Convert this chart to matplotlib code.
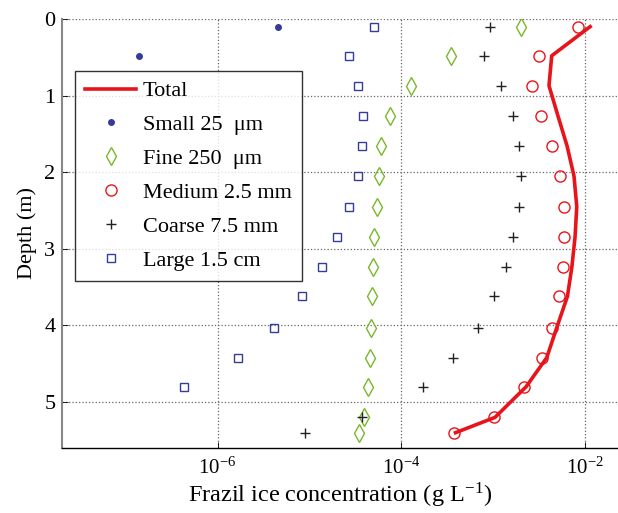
import numpy as np
import matplotlib
matplotlib.use('Agg')
import matplotlib.pyplot as plt

plt.rcParams['font.family'] = ['Liberation Serif', 'DejaVu Serif']
plt.rcParams['mathtext.fontset'] = 'stix'

# depth of each sample (m)
depth = [0.1, 0.48, 0.87, 1.27, 1.66, 2.05, 2.45, 2.85, 3.24, 3.62, 4.03, 4.42, 4.80, 5.20, 5.40]

# concentrations (g/L), nan = off the plot
small = [4.6e-6, 1.4e-7, np.nan, np.nan, np.nan, np.nan, np.nan, np.nan, np.nan, np.nan,
         np.nan, np.nan, np.nan, np.nan, np.nan]
fine = [2.0e-3, 3.5e-4, 1.29e-4, 7.5e-5, 6.0e-5, 5.7e-5, 5.5e-5, 5.1e-5, 4.9e-5, 4.8e-5,
        4.7e-5, 4.6e-5, 4.4e-5, 3.9e-5, 3.5e-5]
medium = [8.5e-3, 3.2e-3, 2.67e-3, 3.3e-3, 4.35e-3, 5.36e-3, 5.97e-3, 5.9e-3, 5.7e-3, 5.26e-3,
          4.4e-3, 3.43e-3, 2.19e-3, 1.02e-3, 3.8e-4]
coarse = [9.2e-4, 7.9e-4, 1.21e-3, 1.66e-3, 1.93e-3, 2.0e-3, 1.93e-3, 1.66e-3, 1.38e-3, 1.02e-3,
          6.8e-4, 3.7e-4, 1.71e-4, 3.75e-5, 8.9e-6]
large = [5.0e-5, 2.68e-5, 3.4e-5, 3.8e-5, 3.75e-5, 3.4e-5, 2.7e-5, 2.0e-5, 1.37e-5, 8.3e-6,
         4.1e-6, 1.66e-6, 4.3e-7, np.nan, np.nan]
total = [1.14e-2, 4.35e-3, 4.06e-3, 5.1e-3, 6.4e-3, 7.6e-3, 8.15e-3, 7.8e-3, 7.2e-3, 6.45e-3,
         4.93e-3, 3.84e-3, 2.29e-3, 1.05e-3, 3.9e-4]

navy = '#353c98'
green = '#78b82a'
red = '#e8141b'

fig = plt.figure(figsize=(6.18, 5.13), dpi=100)
ax = fig.add_axes([0.1008, 0.1267, 0.8992, 0.8363])

ax.plot(total, depth, '-', color=red, lw=2.6, label='Total')
ax.plot(small, depth, 'o', color=navy, ms=4.0, ls='none', label='Small 25  \u03bcm')
ax.plot(fine, depth, 'd', mfc='none', mec=green, ms=9, mew=1.0, ls='none', label='Fine 250  \u03bcm')
ax.plot(medium, depth, 'o', mfc='none', mec=red, ms=8, mew=1.0, ls='none', label='Medium 2.5 mm')
ax.plot(coarse, depth, '+', color='#222222', ms=7, mew=1.0, ls='none', label='Coarse 7.5 mm')
ax.plot(large, depth, 's', mfc='none', mec=navy, ms=6, mew=1.0, ls='none', label='Large 1.5 cm')

ax.set_xscale('log')
ax.set_xlim(10**-7.69, 10**-1.64)
ax.set_ylim(5.6, 0)
ax.set_xticks([1e-6, 1e-4, 1e-2])
ax.xaxis.set_minor_locator(matplotlib.ticker.NullLocator())
ax.set_yticks([0, 1, 2, 3, 4, 5])

ax.grid(True, ls=':', color='#666666', lw=0.9)
ax.tick_params(direction='in', length=4, width=0.6)
ax.tick_params(axis='x', labelsize=15, pad=7)
ax.tick_params(axis='y', labelsize=16, pad=5)
ax.spines['top'].set_visible(False)
ax.spines['right'].set_visible(False)
ax.spines['left'].set_color('#888888')
ax.spines['left'].set_linewidth(1.5)
ax.spines['bottom'].set_linewidth(1.0)

ax.set_xlabel('Frazil ice concentration (g L$^{\\mathregular{-1}}$)', fontsize=17.5, labelpad=1)
ax.set_ylabel('Depth (m)', fontsize=16, labelpad=5)

leg = ax.legend(loc='upper left', bbox_to_anchor=(0.1214, 0.862), bbox_transform=fig.transFigure,
                fontsize=16, frameon=True, fancybox=False, edgecolor='black',
                handlelength=2.3, handletextpad=0.3, borderpad=0.45, labelspacing=0.6,
                borderaxespad=0)
leg.get_frame().set_linewidth(1.0)

fig.savefig('out.png', dpi=100)
